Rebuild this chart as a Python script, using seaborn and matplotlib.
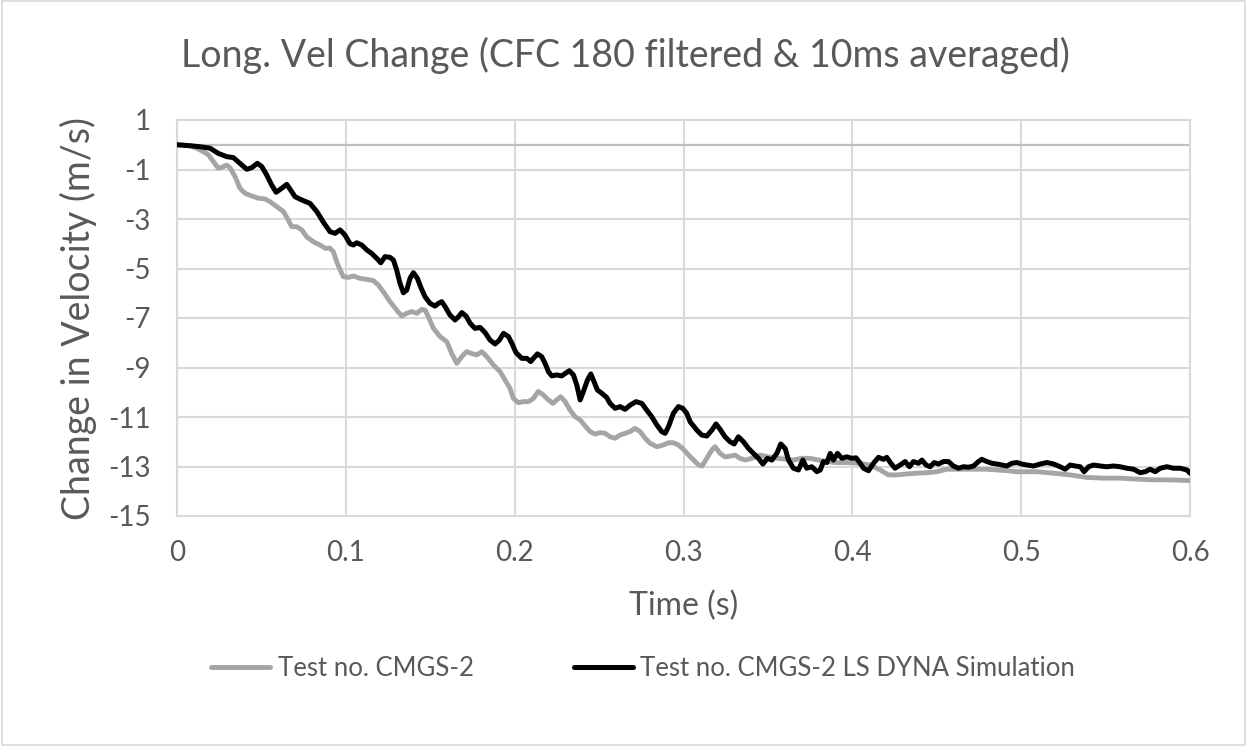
import matplotlib
matplotlib.use("Agg")
import matplotlib.pyplot as plt
import seaborn as sns
import pandas as pd
from matplotlib.patches import Rectangle

# Test no. CMGS-2 (measured)
test_t = [0, 0.0077, 0.0117, 0.0156, 0.0186, 0.0215, 0.0245, 0.0274, 0.0294, 0.0314, 0.0344, 0.0373,
          0.0403, 0.0442, 0.0482, 0.0521, 0.0551, 0.059, 0.063, 0.0659, 0.0679, 0.0709, 0.0739, 0.0768,
          0.0808, 0.0847, 0.0877, 0.0906, 0.0926, 0.0946, 0.0966, 0.0985, 0.1015, 0.1045, 0.1084, 0.1124,
          0.1163, 0.1193, 0.1222, 0.1262, 0.1301, 0.1331, 0.1361, 0.139, 0.142, 0.145, 0.1469, 0.1489,
          0.1519, 0.1558, 0.1598, 0.1627, 0.1657, 0.1687, 0.1716, 0.1752, 0.1776, 0.1805, 0.1835, 0.1874,
          0.1914, 0.1943, 0.1973, 0.1992, 0.2022, 0.2052, 0.2081, 0.2111, 0.214, 0.217, 0.22, 0.2226,
          0.2249, 0.2273, 0.2299, 0.2328, 0.2358, 0.2388, 0.2417, 0.2447, 0.2476, 0.2506, 0.2536, 0.2565,
          0.2595, 0.2624, 0.2654, 0.2684, 0.2713, 0.2743, 0.2773, 0.2802, 0.2842, 0.2881, 0.2911, 0.294,
          0.297, 0.3, 0.3039, 0.309, 0.311, 0.3138, 0.3168, 0.3187, 0.3217, 0.3246, 0.3276, 0.3306,
          0.3335, 0.3365, 0.3405, 0.3454, 0.3503, 0.3553, 0.3602, 0.3651, 0.3701, 0.375, 0.38, 0.3849,
          0.3898, 0.3947, 0.3997, 0.4046, 0.4106, 0.4165, 0.4214, 0.4264, 0.4323, 0.4382, 0.4441, 0.4501,
          0.456, 0.4619, 0.4678, 0.4737, 0.4797, 0.4856, 0.4915, 0.4974, 0.5034, 0.5093, 0.5192, 0.529,
          0.5389, 0.5488, 0.5586, 0.5685, 0.5784, 0.5883, 0.6]
test_v = [0, -0.04, -0.14, -0.28, -0.41, -0.68, -0.95, -0.89, -0.82, -0.93, -1.29, -1.76,
          -1.96, -2.07, -2.16, -2.19, -2.30, -2.50, -2.70, -3.04, -3.31, -3.31, -3.44, -3.72,
          -3.92, -4.05, -4.18, -4.18, -4.32, -4.73, -5.05, -5.33, -5.36, -5.30, -5.40, -5.44,
          -5.49, -5.67, -5.94, -6.34, -6.68, -6.92, -6.81, -6.74, -6.81, -6.65, -6.68, -6.95,
          -7.42, -7.75, -7.96, -8.43, -8.83, -8.56, -8.36, -8.45, -8.49, -8.36, -8.56, -8.90,
          -9.17, -9.51, -9.85, -10.25, -10.42, -10.38, -10.38, -10.25, -9.97, -10.11, -10.31, -10.45,
          -10.31, -10.18, -10.38, -10.72, -10.99, -11.12, -11.36, -11.59, -11.69, -11.63, -11.66, -11.80,
          -11.86, -11.73, -11.66, -11.59, -11.46, -11.59, -11.86, -12.06, -12.20, -12.13, -12.04, -12.04,
          -12.13, -12.31, -12.60, -12.94, -12.98, -12.67, -12.33, -12.20, -12.47, -12.61, -12.58, -12.54,
          -12.67, -12.74, -12.67, -12.54, -12.61, -12.67, -12.70, -12.74, -12.67, -12.67, -12.74, -12.80,
          -12.84, -12.84, -12.85, -12.88, -12.94, -13.14, -13.34, -13.34, -13.30, -13.27, -13.25, -13.21,
          -13.11, -13.11, -13.11, -13.11, -13.11, -13.14, -13.17, -13.21, -13.21, -13.21, -13.27, -13.34,
          -13.44, -13.47, -13.47, -13.51, -13.54, -13.54, -13.57]

# Test no. CMGS-2 LS DYNA Simulation
sim_t = [0, 0.0077, 0.0136, 0.0196, 0.0245, 0.0294, 0.0334, 0.0373, 0.0413, 0.0442, 0.0476, 0.0502,
         0.0531, 0.0561, 0.0587, 0.062, 0.065, 0.0673, 0.0699, 0.0739, 0.0788, 0.0828, 0.0867, 0.0906,
         0.0936, 0.0966, 0.0995, 0.1025, 0.1045, 0.1064, 0.1094, 0.1124, 0.1153, 0.1183, 0.1207, 0.1232,
         0.1262, 0.1282, 0.1301, 0.1321, 0.1341, 0.1361, 0.138, 0.14, 0.1424, 0.1444, 0.1469, 0.1499,
         0.1528, 0.1548, 0.1568, 0.1588, 0.1617, 0.1647, 0.1667, 0.1687, 0.1712, 0.1736, 0.1765, 0.1795,
         0.1825, 0.1854, 0.1884, 0.191, 0.1934, 0.1963, 0.1983, 0.2008, 0.2042, 0.2072, 0.2095, 0.2111,
         0.2135, 0.216, 0.218, 0.22, 0.222, 0.2249, 0.2279, 0.2299, 0.2324, 0.2348, 0.2368, 0.2388,
         0.2407, 0.2431, 0.2451, 0.247, 0.249, 0.2516, 0.2545, 0.2565, 0.2595, 0.2624, 0.2654, 0.2684,
         0.2719, 0.2753, 0.2782, 0.2812, 0.2842, 0.2871, 0.2891, 0.2911, 0.294, 0.297, 0.2996, 0.3019,
         0.304, 0.3079, 0.3108, 0.3138, 0.3168, 0.3193, 0.3217, 0.3246, 0.3276, 0.33, 0.3325, 0.3355,
         0.3385, 0.3414, 0.3444, 0.347, 0.3497, 0.3523, 0.3553, 0.3576, 0.3602, 0.3622, 0.3651, 0.3681,
         0.3707, 0.373, 0.376, 0.379, 0.381, 0.3829, 0.3849, 0.3869, 0.3888, 0.3912, 0.3938, 0.3967,
         0.3997, 0.4022, 0.4046, 0.4066, 0.4096, 0.4125, 0.4155, 0.4184, 0.4204, 0.4228, 0.4253, 0.4283,
         0.4313, 0.4338, 0.4362, 0.4392, 0.4412, 0.4437, 0.4461, 0.4485, 0.451, 0.454, 0.4569, 0.4599,
         0.4629, 0.4658, 0.4688, 0.4718, 0.4747, 0.4767, 0.4797, 0.4826, 0.4856, 0.4886, 0.4915, 0.4945,
         0.4974, 0.5004, 0.5034, 0.5073, 0.5113, 0.5152, 0.5192, 0.5231, 0.5261, 0.529, 0.532, 0.535,
         0.5373, 0.5399, 0.5429, 0.5468, 0.5508, 0.5547, 0.5586, 0.5626, 0.5666, 0.5705, 0.5735, 0.5764,
         0.5794, 0.5824, 0.5863, 0.5903, 0.5942, 0.5982, 0.6]
sim_v = [0, -0.04, -0.08, -0.14, -0.35, -0.48, -0.52, -0.75, -0.99, -0.93, -0.75, -0.88,
         -1.22, -1.63, -1.92, -1.76, -1.60, -1.83, -2.10, -2.23, -2.37, -2.70, -3.13, -3.51,
         -3.58, -3.44, -3.65, -4.0, -4.05, -3.96, -4.05, -4.25, -4.39, -4.59, -4.77, -4.52,
         -4.55, -4.66, -5.06, -5.60, -5.98, -5.87, -5.40, -5.17, -5.40, -5.76, -6.14, -6.41,
         -6.52, -6.41, -6.34, -6.54, -6.88, -7.08, -6.95, -6.78, -6.92, -7.21, -7.42, -7.38,
         -7.59, -7.89, -8.05, -7.89, -7.62, -7.75, -8.02, -8.40, -8.63, -8.63, -8.76, -8.63,
         -8.45, -8.56, -8.83, -9.17, -9.34, -9.30, -9.34, -9.24, -9.13, -9.30, -9.71, -10.31,
         -9.97, -9.51, -9.26, -9.57, -9.91, -10.04, -10.21, -10.45, -10.65, -10.58, -10.69, -10.52,
         -10.38, -10.45, -10.72, -10.99, -11.32, -11.59, -11.66, -11.39, -10.85, -10.58, -10.65, -10.85,
         -11.20, -11.53, -11.73, -11.77, -11.53, -11.28, -11.50, -11.80, -12.00, -12.09, -11.80, -12.00,
         -12.27, -12.47, -12.67, -12.90, -12.67, -12.74, -12.47, -12.09, -12.27, -12.74, -13.07, -13.14,
         -12.74, -13.07, -13.01, -13.21, -13.14, -12.80, -12.84, -12.47, -12.74, -12.47, -12.67, -12.61,
         -12.67, -12.65, -12.86, -13.07, -13.17, -12.87, -12.63, -12.71, -12.63, -12.87, -13.07, -12.94,
         -12.80, -13.01, -12.80, -12.87, -12.74, -12.94, -13.01, -12.84, -12.90, -12.80, -12.80, -12.98,
         -13.07, -13.01, -13.03, -12.98, -12.80, -12.71, -12.80, -12.87, -12.90, -12.94, -12.98, -12.87,
         -12.84, -12.90, -12.94, -12.98, -12.90, -12.84, -12.90, -13.01, -13.11, -12.94, -12.98, -13.01,
         -13.21, -13.01, -12.94, -12.98, -13.01, -12.98, -13.01, -13.07, -13.11, -13.25, -13.21, -13.11,
         -13.21, -13.07, -13.01, -13.07, -13.07, -13.14, -13.27]

title = "Long. Vel Change (CFC 180 filtered & 10ms averaged)"
x_label = "Time (s)"
y_label = "Change in Velocity (m/s)"
test_name = "Test no. CMGS-2"
sim_name = "Test no. CMGS-2 LS DYNA Simulation"
x_ticks = [0, 0.1, 0.2, 0.3, 0.4, 0.5, 0.6]
x_tick_labels = ["0", "0.1", "0.2", "0.3", "0.4", "0.5", "0.6"]
y_ticks = [1, -1, -3, -5, -7, -9, -11, -13, -15]

sns.set_theme(style="white")
plt.rcParams["font.family"] = ["Lato", "DejaVu Sans"]
plt.rcParams["axes.unicode_minus"] = False

TEXT = "#595959"
GRID = "#d9d9d9"

fig = plt.figure(figsize=(12.47, 7.46), dpi=100)
ax = fig.add_axes([177 / 1247, 1 - 516 / 746, (1190 - 177) / 1247, (516 - 120) / 746])

df_test = pd.DataFrame({"t": test_t, "v": test_v})
df_sim = pd.DataFrame({"t": sim_t, "v": sim_v})

ax.axhline(0, color="#bfbfbf", lw=1.6, zorder=1)
sns.lineplot(data=df_test, x="t", y="v", ax=ax, color="#a5a5a5", lw=3.5,
             estimator=None, sort=False, label=test_name, zorder=3)
sns.lineplot(data=df_sim, x="t", y="v", ax=ax, color="black", lw=3.6,
             estimator=None, sort=False, label=sim_name, zorder=4)

ax.set_xlim(0, 0.6)
ax.set_ylim(-15, 1)
ax.set_xticks(x_ticks)
ax.set_xticklabels(x_tick_labels)
ax.set_yticks(y_ticks)
ax.grid(True, color=GRID, lw=1.5, zorder=0)
ax.set_axisbelow(True)
for s in ax.spines.values():
    s.set_color(GRID)
    s.set_linewidth(1.5)
ax.tick_params(axis="both", length=0, labelsize=20, labelcolor=TEXT)
ax.tick_params(axis="x", pad=17)
ax.tick_params(axis="y", pad=19)

ax.set_xlabel(x_label, fontsize=23, color=TEXT, labelpad=18)
ax.set_ylabel(y_label, fontsize=27, color=TEXT, labelpad=8)
fig.text(625 / 1247, 1 - 55 / 746, title, ha="center", va="center", fontsize=27, color=TEXT)

ax.get_legend().remove()
handles, labels = ax.get_legend_handles_labels()
leg = fig.legend(handles, labels, loc="center", bbox_to_anchor=(643 / 1247, 1 - 668 / 746),
                 ncol=2, frameon=False, fontsize=18.5, handlelength=2.3, columnspacing=3.9,
                 handletextpad=0.3)
for txt in leg.get_texts():
    txt.set_color(TEXT)

fig.patches.append(Rectangle((0.002, 0.002), 0.996, 0.996, transform=fig.transFigure,
                             fill=False, edgecolor=GRID, lw=1.2))

fig.savefig("out.png", dpi=100, facecolor="white")
